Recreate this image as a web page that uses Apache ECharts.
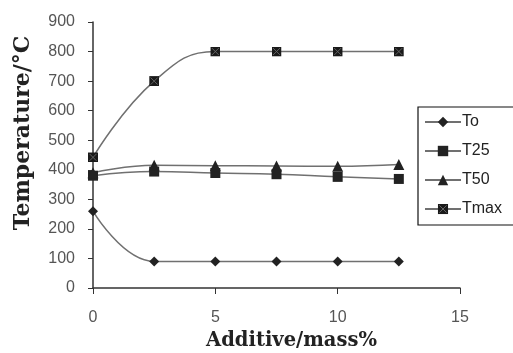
<!DOCTYPE html>
<html><head><meta charset="utf-8">
<script src="https://cdn.jsdelivr.net/npm/echarts@6/dist/echarts.min.js"></script>
<style>html,body{margin:0;padding:0;background:#fff}#c{width:513px;height:353px}</style>
</head><body><div id="c"></div>
<script>
const xValues = [0, 2.5, 5, 7.5, 10, 12.5];
const seriesNames = ['To', 'T25', 'T50', 'Tmax'];
const To = [260, 90, 90, 90, 90, 90];
const T25 = [380, 394, 389, 385, 376, 369];
const T50 = [390, 415, 414, 413, 412, 418];
const Tmax = [442, 700, 800, 800, 800, 800];
const xTicks = [0, 5, 10, 15];
const yTicks = [0, 100, 200, 300, 400, 500, 600, 700, 800, 900];

const pair = arr => xValues.map((x, i) => [x, arr[i]]);
const svg = '<svg xmlns="http://www.w3.org/2000/svg" width="20" height="20" viewBox="0 0 20 20">' +
  '<rect x="0" y="0" width="20" height="20" fill="#1a1a1a"/>' +
  '<path d="M3,3L17,17M17,3L3,17" stroke="#6a6a6a" stroke-width="1.8"/></svg>';
const bowtie = 'image://data:image/svg+xml;charset=utf-8,' + encodeURIComponent(svg);
const symbols = ['diamond', 'rect', 'triangle', bowtie];
const sizes = [10, 10, 11, 10];
const data = [To, T25, T50, Tmax];

const chart = echarts.init(document.getElementById('c'));
chart.setOption({
  animation: false,
  grid: {left: 93, right: 53, top: 22, bottom: 65, outerBoundsMode: 'none', containLabel: false},
  xAxis: {
    type: 'value', min: 0, max: 15, interval: 5,
    name: 'Additive/mass%', nameLocation: 'middle', nameGap: 34,
    nameTextStyle: {fontFamily: 'DejaVu Serif', fontWeight: 'bold', fontSize: 19.5, color: '#222', padding: [0, 0, 0, 30]},
    axisLine: {lineStyle: {color: '#333', width: 1.5}},
    axisTick: {show: true, length: 6, lineStyle: {color: '#333'}},
    axisLabel: {fontFamily: 'Liberation Sans', fontSize: 16, color: '#555', margin: 22,
      formatter: v => xTicks.includes(v) ? String(v) : ''},
    splitLine: {show: false}
  },
  yAxis: {
    type: 'value', min: 0, max: 900, interval: 100,
    name: 'Temperature/°C', nameLocation: 'middle', nameGap: 59,
    nameTextStyle: {fontFamily: 'DejaVu Serif', fontWeight: 'bold', fontSize: 22, color: '#222', padding: [0, 0, 0, 44]},
    axisLine: {show: true, lineStyle: {color: '#333', width: 1.5}},
    axisTick: {show: true, length: 5, lineStyle: {color: '#333'}},
    axisLabel: {fontFamily: 'Liberation Sans', fontSize: 16, color: '#555', margin: 18,
      formatter: v => yTicks.includes(v) ? String(v) : ''},
    splitLine: {show: false}
  },
  legend: {
    orient: 'vertical', left: 418, top: 107,
    data: seriesNames,
    backgroundColor: '#fff', borderColor: '#111', borderWidth: 1.2,
    padding: [7, 12, 8, 6], itemGap: 13, itemWidth: 36, itemHeight: 13,
    textStyle: {fontFamily: 'Liberation Sans', fontSize: 16, color: '#222', padding: [0, 0, 0, -4]}
  },
  series: seriesNames.map((n, i) => ({
    name: n, type: 'line', data: pair(data[i]),
    smooth: 0.45,
    symbol: symbols[i], symbolSize: sizes[i],
    itemStyle: {color: '#222', borderColor: '#222', borderWidth: 0},
    lineStyle: {color: '#707070', width: 1.5}
  }))
});
</script></body></html>
